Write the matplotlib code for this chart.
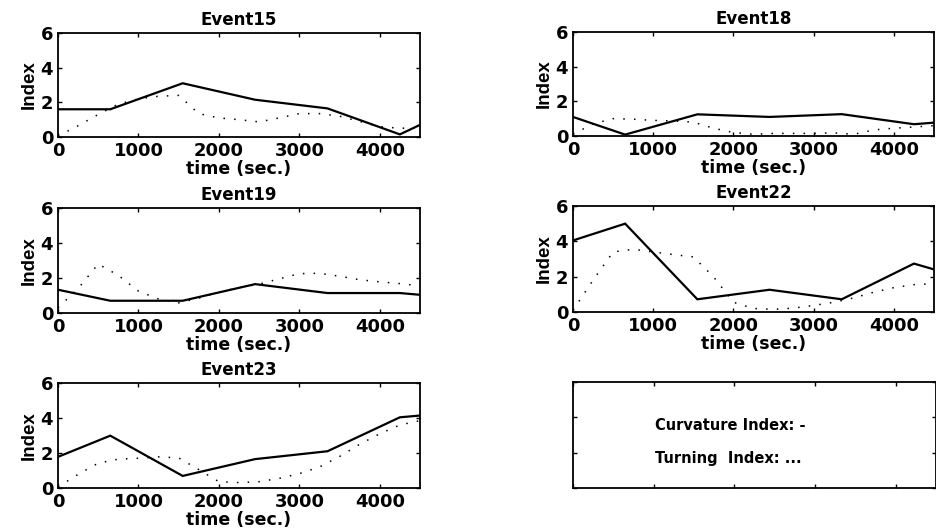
import numpy as np
import matplotlib
matplotlib.use('Agg')
import matplotlib.pyplot as plt

# Breakpoints of the solid (curvature) curves and the finer grid of the dotted (turning) curves.
solid_t = [0, 650, 1550, 2450, 3350, 4250, 4500]
dotted_t = [0, 250, 500, 750, 1000, 1250, 1500, 1750, 2000, 2250,
            2500, 2750, 3000, 3250, 3500, 3750, 4000, 4250, 4500]

event_names = ["Event15", "Event18", "Event19", "Event22", "Event23"]

curv15 = [1.6, 1.6, 3.1, 2.15, 1.65, 0.15, 0.7]
turn15 = [0.05, 0.65, 1.3, 1.9, 2.2, 2.35, 2.4, 1.35, 1.1, 1.0,
          0.87, 1.1, 1.35, 1.35, 1.2, 0.9, 0.6, 0.5, 0.55]

curv18 = [1.1, 0.08, 1.25, 1.1, 1.26, 0.68, 0.77]
turn18 = [0.1, 0.7, 1.0, 0.97, 0.9, 0.87, 0.8, 0.45, 0.2, 0.1,
          0.15, 0.15, 0.15, 0.18, 0.1, 0.35, 0.45, 0.52, 0.6]

curv19 = [1.33, 0.7, 0.7, 1.65, 1.14, 1.14, 1.04]
turn19 = [0.3, 1.4, 2.8, 2.15, 1.25, 0.8, 0.58, 0.85, 1.2, 1.45,
          1.65, 1.95, 2.25, 2.27, 2.1, 1.9, 1.78, 1.68, 1.55]

curv22 = [4.05, 5.0, 0.72, 1.26, 0.72, 2.74, 2.41]
turn22 = [0.1, 1.8, 3.4, 3.55, 3.4, 3.25, 3.12, 2.0, 0.55, 0.2,
          0.15, 0.22, 0.37, 0.55, 0.8, 1.12, 1.38, 1.55, 1.6]

curv23 = [1.78, 2.99, 0.69, 1.65, 2.1, 4.04, 4.14]
turn23 = [0.06, 0.78, 1.42, 1.65, 1.7, 1.78, 1.72, 1.05, 0.36, 0.31,
          0.36, 0.55, 0.82, 1.2, 1.8, 2.5, 3.1, 3.6, 3.85]

curvature = [curv15, curv18, curv19, curv22, curv23]
turning = [turn15, turn18, turn19, turn22, turn23]

x_ticks = [0, 1000, 2000, 3000, 4000]
y_ticks = [0, 2, 4, 6]

W, H = 937, 529
fig = plt.figure(figsize=(W / 100, H / 100), dpi=100)

# Axes rectangles in pixels (left, top, right, bottom).
boxes = [
    (58, 33, 420, 137), (573, 32, 934, 136),
    (58, 208, 420, 313), (573, 206, 934, 312),
    (58, 383, 420, 488), (573, 382, 936, 488),
]

def make_axes(box):
    l, t, r, b = box
    ax = fig.add_axes([l / W, 1 - b / H, (r - l) / W, (b - t) / H])
    ax.set_xlim(0, 4500)
    ax.set_ylim(0, 6)
    ax.set_xticks(x_ticks)
    ax.set_yticks(y_ticks)
    ax.tick_params(direction='in', top=True, right=True, length=3, width=1)
    for s in ax.spines.values():
        s.set_linewidth(1.3)
    return ax

for i, name in enumerate(event_names):
    ax = make_axes(boxes[i])
    ax.plot(solid_t, curvature[i], color='black', lw=1.6, solid_joinstyle='miter')
    ax.plot(dotted_t, turning[i], color='black', lw=1.1, linestyle=(0, (1, 6)))
    for lab in ax.get_xticklabels() + ax.get_yticklabels():
        lab.set_fontfamily('DejaVu Sans')
        lab.set_fontweight('bold')
        lab.set_fontsize(13)
    ax.set_title(name, fontsize=12, fontweight='bold', pad=6)
    ax.set_xlabel("time (sec.)", fontsize=12.5, fontweight='bold', labelpad=0)
    ax.set_ylabel("Index", fontsize=13.5, fontweight='bold',
                  family=['Liberation Sans', 'DejaVu Sans'], labelpad=2)

# Legend panel: empty axes with ticks only, text inside.
ax = make_axes(boxes[5])
ax.set_xticklabels([])
ax.set_yticklabels([])
ax.text(0.227, 0.585, "Curvature Index: -", transform=ax.transAxes,
        ha='left', va='center', fontsize=10.5, fontweight='bold')
ax.text(0.227, 0.274, "Turning  Index: ...", transform=ax.transAxes,
        ha='left', va='center', fontsize=10.5, fontweight='bold')

fig.savefig("out.png", dpi=100)
